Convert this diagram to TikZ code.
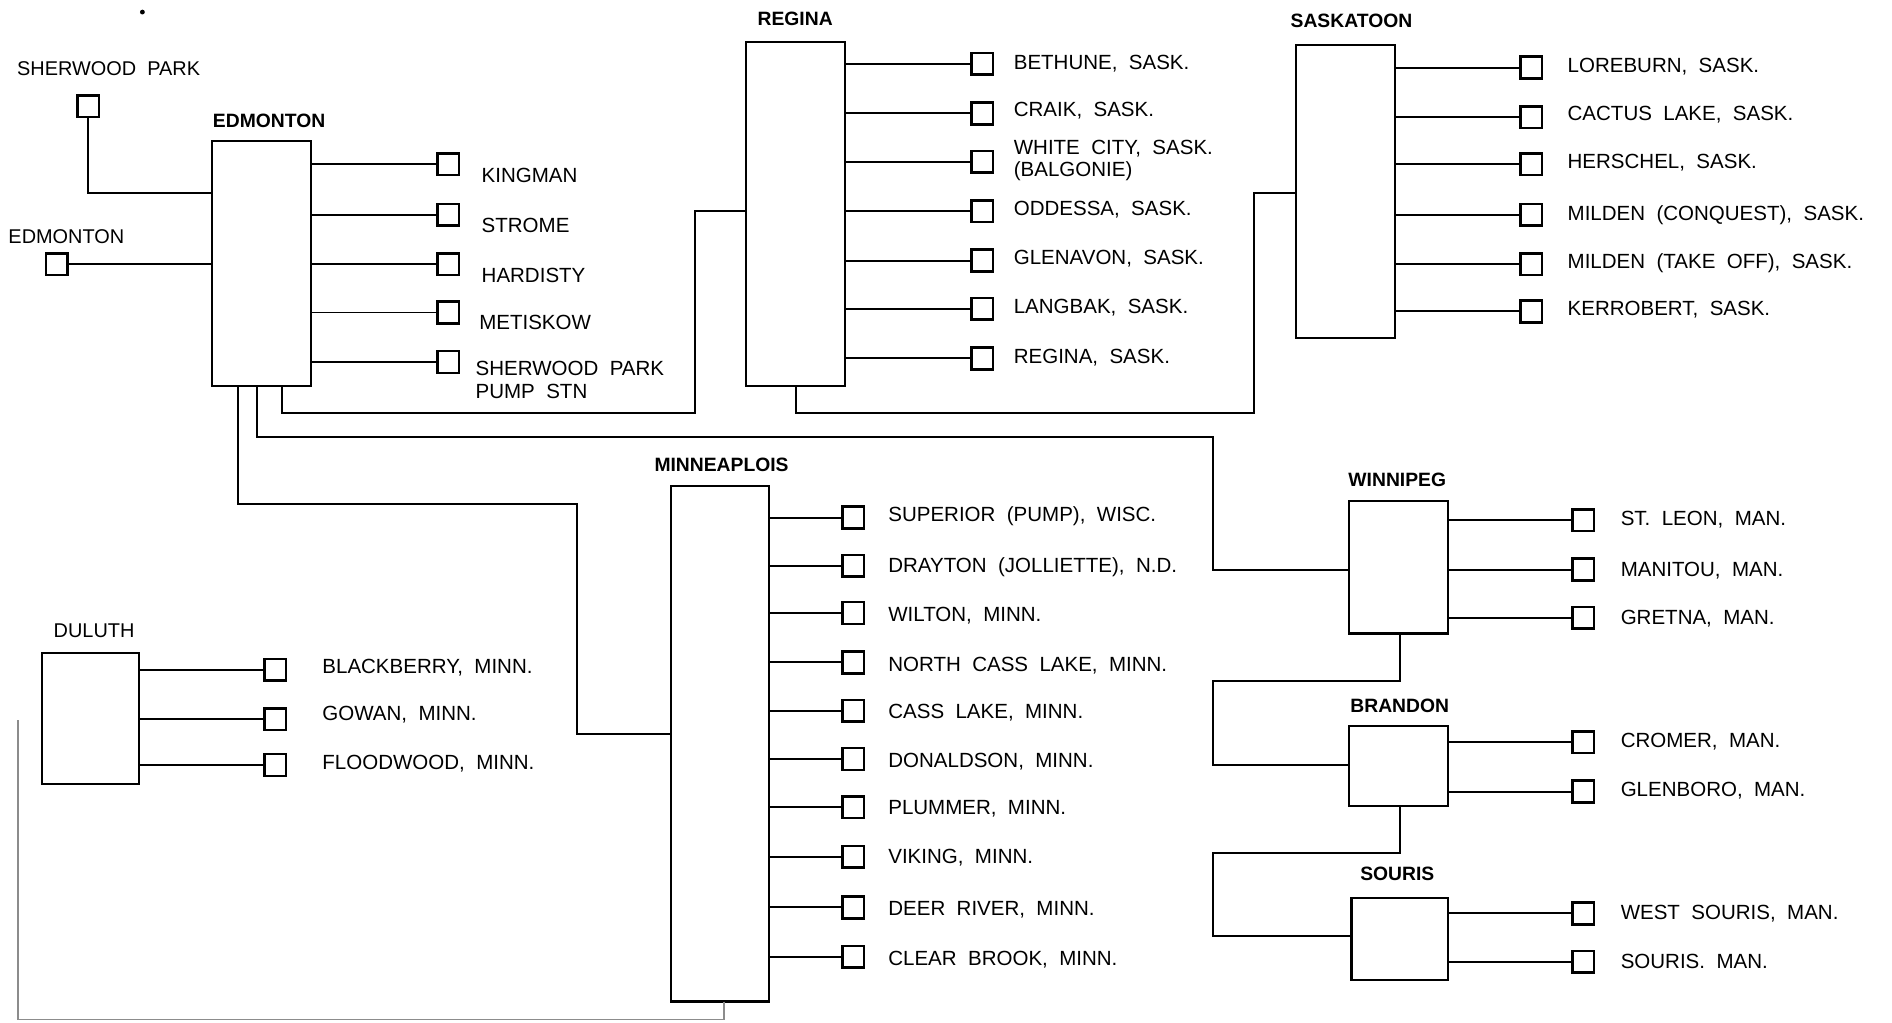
\documentclass[tikz,border=0pt]{standalone}
\usepackage{fontspec}
\setmainfont{Liberation Sans}[WordSpace=2]
\newcommand\mystn[7]{%
  \node[sq] (#1) at (#4,#3) {};
  \node[lbl] (#1t) at (#5,#6) {#7};
  \draw[wire] (#2.east |- #1.west) -- (#1.west);
}
\begin{document}
\begin{tikzpicture}[x=1pt,y=-1pt,
  hubbox/.style={draw, line width=1.8pt, inner sep=0pt, outer sep=0pt},
  sq/.style={draw, line width=2.2pt, minimum size=18pt, inner sep=0pt, outer sep=0pt},
  wire/.style={line width=1.6pt},
  faint/.style={line width=1.1pt, draw=black!45},
  lbl/.style={font=\fontsize{17}{19}\selectfont, inner sep=0pt, anchor=west, align=left},
  hublbl/.style={font=\bfseries\fontsize{16}{18}\selectfont, inner sep=0pt},
  sidelbl/.style={font=\fontsize{16.5}{18}\selectfont, inner sep=0pt}]
\useasboundingbox (0,0) rectangle (1568,847);
\fill (118,10) circle (2pt);

% hubs
\node[hubbox, minimum width=82pt, minimum height=203pt] (edm) at (217,218.5) {};
\node[hubbox, minimum width=82pt, minimum height=285pt] (reg) at (659,177.5) {};
\node[hubbox, minimum width=82pt, minimum height=243pt] (sas) at (1115,158.5) {};
\node[hubbox, minimum width=81pt, minimum height=427pt] (min) at (596.5,616.5) {};
\node[hubbox, minimum width=80pt, minimum height=109pt] (dul) at (75,595.5) {};
\node[hubbox, minimum width=82pt, minimum height=110pt] (win) at (1159,470) {};
\node[hubbox, minimum width=82pt, minimum height=66pt] (bra) at (1159,635) {};
\node[hubbox, minimum width=80pt, minimum height=68pt] (sou) at (1160,778) {};

% hub labels
\node[hublbl] (edmL) at (223,100) {EDMONTON};
\node[hublbl] (regL) at (659,16) {REGINA};
\node[hublbl] (sasL) at (1120,17) {SASKATOON};
\node[hublbl] (minL) at (598,385) {MINNEAPLOIS};
\node[hublbl] (winL) at (1158,398) {WINNIPEG};
\node[hublbl] (braL) at (1160,585) {BRANDON};
\node[hublbl] (souL) at (1158,724) {SOURIS};
\node[sidelbl] (dulL) at (78,523) {DULUTH};

% inputs to Edmonton
\node[sidelbl] (spkL) at (90,57) {SHERWOOD PARK};
\node[sq] (spk) at (73,88) {};
\node[sidelbl] (edlL) at (55,196) {EDMONTON};
\node[sq] (edl) at (47,219) {};
\draw[wire] (spk.south) |- (edm.west |- 0,160);
\draw[wire] (edl.east) -- (edm.west |- edl.east);

% Edmonton stations
\mystn{kin}{edm}{136}{371.5}{399}{145}{KINGMAN}
\mystn{str}{edm}{178}{371.5}{399}{187}{STROME}
\mystn{har}{edm}{219}{371.5}{399}{228}{HARDISTY}
\mystn{met}{edm}{259}{371.5}{397}{267}{METISKOW}
\mystn{spp}{edm}{300}{371.5}{394}{315}{SHERWOOD PARK\\PUMP STN}

% Regina stations
\mystn{bet}{reg}{53}{814}{840}{53}{BETHUNE, SASK.}
\mystn{cra}{reg}{94}{814}{840}{92}{CRAIK, SASK.}
\mystn{whi}{reg}{134}{814}{840}{133}{WHITE CITY, SASK.\\(BALGONIE)}
\mystn{odd}{reg}{175}{814}{840}{174}{ODDESSA, SASK.}
\mystn{gle}{reg}{216}{814}{840}{214}{GLENAVON, SASK.}
\mystn{lan}{reg}{256}{814}{840}{255}{LANGBAK, SASK.}
\mystn{rgs}{reg}{297}{814}{840}{296}{REGINA, SASK.}

% Saskatoon stations
\mystn{lor}{sas}{56}{1269}{1299}{55}{LOREBURN, SASK.}
\mystn{cac}{sas}{97}{1269}{1299}{95}{CACTUS LAKE, SASK.}
\mystn{her}{sas}{136}{1269}{1299}{135}{HERSCHEL, SASK.}
\mystn{mic}{sas}{178}{1269}{1299}{178}{MILDEN (CONQUEST), SASK.}
\mystn{mit}{sas}{219}{1269}{1299}{218}{MILDEN (TAKE OFF), SASK.}
\mystn{ker}{sas}{258}{1269}{1299}{257}{KERROBERT, SASK.}

% Minneapolis stations
\mystn{sup}{min}{429}{707}{736}{428}{SUPERIOR (PUMP), WISC.}
\mystn{dra}{min}{469}{707}{736}{470}{DRAYTON (JOLLIETTE), N.D.}
\mystn{wil}{min}{508}{707}{736}{510}{WILTON, MINN.}
\mystn{ncl}{min}{549}{707}{736}{552}{NORTH CASS LAKE, MINN.}
\mystn{cas}{min}{589}{707}{736}{591}{CASS LAKE, MINN.}
\mystn{don}{min}{629}{707}{736}{631}{DONALDSON, MINN.}
\mystn{plu}{min}{669}{707}{736}{670}{PLUMMER, MINN.}
\mystn{vik}{min}{710}{707}{736}{711}{VIKING, MINN.}
\mystn{dee}{min}{752}{707}{736}{754}{DEER RIVER, MINN.}
\mystn{cle}{min}{793}{707}{736}{795}{CLEAR BROOK, MINN.}

% Duluth stations
\mystn{bla}{dul}{555}{228}{267}{553}{BLACKBERRY, MINN.}
\mystn{gow}{dul}{596}{228}{267}{592}{GOWAN, MINN.}
\mystn{flo}{dul}{634}{228}{267}{633}{FLOODWOOD, MINN.}

% Winnipeg, Brandon, Souris stations
\mystn{stl}{win}{431}{1312}{1343}{431}{ST. LEON, MAN.}
\mystn{man}{win}{472}{1312}{1343}{473}{MANITOU, MAN.}
\mystn{gre}{win}{512}{1312}{1343}{513}{GRETNA, MAN.}
\mystn{cro}{bra}{615}{1312}{1343}{615}{CROMER, MAN.}
\mystn{glb}{bra}{656}{1312}{1343}{655}{GLENBORO, MAN.}
\mystn{wso}{sou}{757}{1312}{1343}{757}{WEST SOURIS, MAN.}
\mystn{sos}{sou}{797}{1312}{1343}{797}{SOURIS. MAN.}

% trunk connectors
\draw[wire] (edm.south -| 197,0) |- (478,418) |- (min.west |- 0,608);
\draw[wire] (edm.south -| 213,0) |- (1005,362) |- (win.west |- 0,472);
\draw[wire] (edm.south -| 234,0) |- (576,342) |- (reg.west |- 0,175);
\draw[wire] (reg.south -| 660,0) |- (1039,342) |- (sas.west |- 0,160);
\draw[wire] (win.south -| 1160,0) |- (1005,564) |- (bra.west |- 0,634);
\draw[wire] (bra.south -| 1160,0) |- (1005,707) |- (sou.west |- 0,776);
\coordinate (mEnd) at (15,597);
\draw[faint] (min.south -| 600,0) |- (15,845) -- (mEnd);
\end{tikzpicture}
\end{document}
